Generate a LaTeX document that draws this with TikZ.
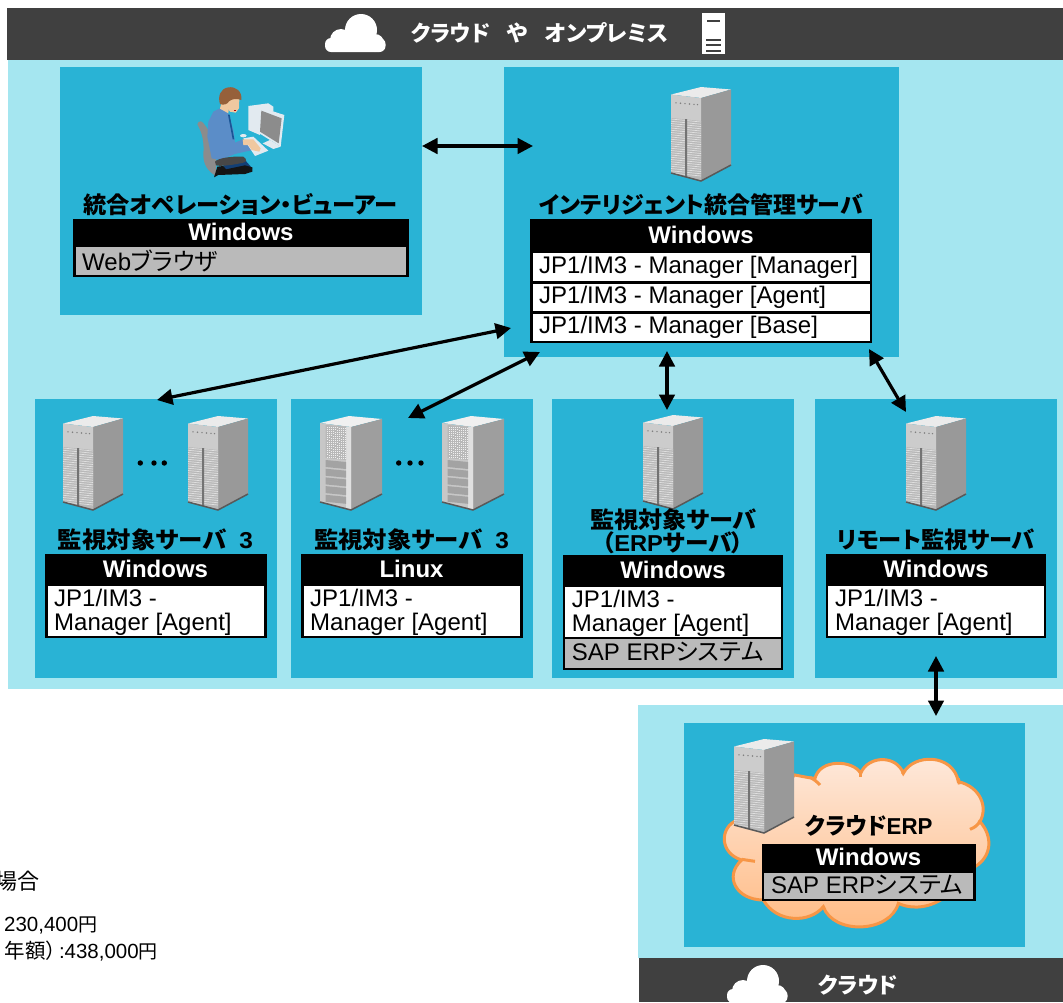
\documentclass[tikz,border=0pt]{standalone}
\usepackage{fontspec}
\usepackage{graphicx}
\usetikzlibrary{arrows.meta}
\setmainfont{Liberation Sans}
\newfontfamily\cjk[RawFeature=+palt]{Noto Sans CJK JP}
\newcommand\J[1]{{\cjk #1}}
\newcommand\Fit[2]{\resizebox{#1pt}{\height}{#2}}
\definecolor{pale}{HTML}{A5E6F0}
\definecolor{panelblue}{HTML}{29B3D5}
\definecolor{darkbar}{HTML}{404040}
\definecolor{rowgrey}{HTML}{BABABA}
\definecolor{cloudline}{HTML}{F79646}
\definecolor{cloudtop}{HTML}{FEE9DC}
\definecolor{cloudbot}{HTML}{FFBA82}
\definecolor{shirt}{HTML}{5B8DC8}
\definecolor{tie}{HTML}{195596}
\definecolor{pants}{HTML}{123F75}
\definecolor{skin}{HTML}{F0C8A0}
\definecolor{hair}{HTML}{96603A}
\definecolor{pcwhite}{HTML}{E2EAF0}
\tikzset{
  x=1pt,y=-1pt,
  os/.style={font=\bfseries\fontsize{24}{24}\selectfont,text=white,inner sep=0,anchor=base},
  sw/.style={font=\fontsize{24}{24}\selectfont,text=black,inner sep=0,anchor=base west,align=left},
  ttl/.style={font=\bfseries\fontsize{23}{23}\selectfont,text=black,inner sep=0,anchor=base},
  bartxt/.style={font=\bfseries\fontsize{22}{22}\selectfont,text=white,inner sep=0,anchor=base},
  link/.style={line width=3.2pt,black,{Triangle[length=15.5pt,width=15.5pt]}-{Triangle[length=15.5pt,width=15.5pt]}},
  note/.style={inner sep=0,anchor=base east,text=black},
  dotmark/.style={fill=black,draw=none},
  cloudstroke/.style={cloudline,line width=3pt}
}
% blade server, origin at top left of its bounding box
\newcommand\SrvA[2]{\begin{scope}[shift={(#1,#2)}]
  \fill[black!8] (0,7.5)--(30,0)--(60,2.5)--(30,11)--cycle;
  \fill[black!40] (30,11)--(60,2.5)--(60,78)--(30,94)--cycle;
  \fill[black!20] (0,7.5)--(30,11)--(30,94)--(0,86)--cycle;
  \fill[black!28] (0,31)--(30,34)--(30,94)--(0,86)--cycle;
  \foreach \i in {0,...,24}{
    \draw[black!12,line width=.7pt] (0,{32+2.25*\i})--(30,{35+2.25*\i});
  }
  \fill[black!55] (14.2,32)--(16.2,32.2)--(16.2,90)--(14.2,89.5)--cycle;
  \foreach \d in {5,9.5,14,18.5,23,26.5}{\fill[black!50] (\d,{15.5+\d*.08}) circle (.8);}
  \draw[black!65,line width=1.5pt] (0,86)--(30,94)--(60,78);
\end{scope}}
% rack server with grid and bays
\newcommand\SrvB[2]{\begin{scope}[shift={(#1,#2)}]
  \fill[black!6] (0,7)--(29,0)--(62,3)--(31,11)--cycle;
  \fill[black!38] (31,11)--(62,3)--(62,78)--(31,94)--cycle;
  \fill[black!22] (0,7)--(31,11)--(31,94)--(0,86)--cycle;
  \fill[black!12] (26,10.5)--(31,11)--(31,94)--(26,92.5)--cycle;
  \fill[black!28] (5.7,9)--(26,10.5)--(26,44)--(5.7,42)--cycle;
  \foreach \a in {0,...,9}{\foreach \b in {0,...,14}{
    \fill[black!6] ({6.5+\a*2},{10.5+\b*2.15+\a*.18}) rectangle +(.9,.9);}}
  \foreach \k in {0,...,4}{
    \fill[black!36] (5.7,{44+\k*8.7}) -- (26,{46+\k*8.7}) -- (26,{53+\k*8.7}) -- (5.7,{51+\k*8.7})--cycle;
  }
  \draw[black!65,line width=1.5pt] (0,86)--(31,94)--(62,78);
\end{scope}}
\newcommand\WCloud[2]{\begin{scope}[shift={(#1,#2)}]
  \fill[white] (36,16) circle (16);
  \fill[white] (16,26) circle (11);
  \fill[white] (50,29) circle (9);
  \fill[white,rounded corners=6pt] (0,24) rectangle (60.5,38);
\end{scope}}
\begin{document}
\begin{tikzpicture}
\useasboundingbox (0,0) rectangle (1063,1002);
\clip (0,0) rectangle (1063,1002);
\fill[white] (0,0) rectangle (1063,1002);
% large areas
\fill[darkbar] (7,8) rectangle (1063,60);
\fill[pale] (8,60) rectangle (1063,689);
\fill[pale] (638,705) rectangle (1063,958);
\fill[darkbar] (639,958) rectangle (1063,1002);
% panels
\fill[panelblue] (60,67) rectangle (422,315);
\fill[panelblue] (504,67) rectangle (899,357);
\fill[panelblue] (35,399) rectangle (277,678);
\fill[panelblue] (291,399) rectangle (533,678);
\fill[panelblue] (552,399) rectangle (794,678);
\fill[panelblue] (815,399) rectangle (1057,678);
\fill[panelblue] (684,723) rectangle (1025,947);
% top bar
\WCloud{325}{14}
\node[bartxt] (tcl) at (450.5,41) {\Fit{79}{\J{クラウド}}};
\node[bartxt] (tya) at (517.5,41) {\J{や}};
\node[bartxt] (ton) at (606.5,41) {\Fit{123}{\J{オンプレミス}}};
\fill[white] (702,13) rectangle (725,54);
\fill[darkbar] (707,19.5) rectangle (720,21.5);
\foreach \yy in {38.5,44,49.5}{\fill[darkbar] (706,\yy) rectangle (721,\yy+2);}
% bottom bar
\WCloud{727}{965}
\node[bartxt] (bcl) at (858,993) {\Fit{80}{\J{クラウド}}};
% operator figure
\begin{scope}[shift={(190,80)},xscale=.33333,yscale=.33333]
  \fill[black!45] (22,133) .. controls (25,122) and (35,120) .. (42,132) .. controls (70,165) and (82,210) .. (78,288) .. controls (55,275) and (40,255) .. (40,225) .. controls (42,190) and (40,165) .. (22,133) -- cycle;
  \fill[shirt] (90,85) -- (115,100) -- (130,150) -- (135,188) -- (165,175) -- (185,190) -- (190,210) -- (165,215) -- (135,222) -- (90,240) -- (65,235) -- (52,170) -- (55,125) -- (70,95) -- cycle;
  \fill[tie] (114,104) -- (119,104) -- (133,178) -- (128,178) -- cycle;
  \fill[pants] (100,255) -- (165,240) -- (187,265) -- (105,270) -- cycle;
  \fill[black!72] (75,245) .. controls (85,232) and (140,228) .. (160,230) .. controls (172,238) and (170,246) .. (160,248) .. controls (130,255) and (90,260) .. (78,256) -- cycle;
  \fill[black!92] (72,292) -- (82,260) -- (100,258) -- (108,268) -- (165,256) -- (187,262) -- (187,275) -- (165,282) -- (85,285) -- cycle;
  \fill[skin] (95,65) -- (118,70) -- (115,100) -- (90,86) -- cycle;
  \fill[skin] (108,50) -- (148,58) -- (147,85) -- (137,98) -- (120,95) -- (108,78) -- cycle;
  \fill[red!70!black] (131,90) rectangle (137,94);
  \fill[hair] (90,72) .. controls (83,50) and (90,26) .. (115,22) .. controls (137,19) and (157,33) .. (154,60) .. controls (140,54) and (125,57) .. (117,64) .. controls (114,72) and (100,77) .. (90,72) -- cycle;
  \fill[pcwhite] (175,78) -- (235,70) -- (250,80) -- (250,95) -- (213,85) -- (210,165) -- (175,150) -- cycle;
  \fill[pcwhite] (212,82) -- (283,105) -- (272,200) -- (208,160) -- cycle;
  \fill[black!45] (214,92) -- (275,115) -- (266,190) -- (210,155) -- cycle;
  \fill[pcwhite] (218,190) -- (240,180) -- (272,200) -- (250,207) -- cycle;
  \fill[pcwhite] (160,175) -- (190,170) -- (235,212) -- (195,228) -- cycle;
  \fill[pcwhite] (160,167) ellipse (10 and 5);
  \fill[skin] (158,178) -- (190,178) -- (212,205) -- (208,215) -- (185,210) -- (175,195) -- (160,195) -- cycle;
\end{scope}
% servers
\SrvA{671}{87}
\SrvA{63}{416}
\SrvA{188}{416}
\SrvB{320}{416}
\SrvB{442}{416}
\SrvA{643}{415}
\SrvA{906}{416}
\foreach \dx in {140.3,154,164.3}{\fill[dotmark] (\dx,463) circle (2.7);}
\foreach \dx in {398.7,410,421}{\fill[dotmark] (\dx,463) circle (2.7);}
% cloud shape
\begin{scope}[xscale=.33333,yscale=.33333,shift={(1890,2070)}]
  \path[draw=cloudline,line width=3pt,top color=cloudtop,bottom color=cloudbot]
    (495,255) .. controls (520,260) and (545,265) .. (555,265) .. controls (570,205) and (670,210) .. (692,250) .. controls (715,195) and (800,195) .. (820,250) .. controls (850,190) and (970,190) .. (985,275) .. controls (1050,290) and (1075,350) .. (1050,395) .. controls (1090,440) and (1085,500) .. (1035,530) -- (1000,600) -- (935,628) .. controls (880,662) and (830,652) .. (805,640) .. controls (780,730) and (610,735) .. (580,650) .. controls (540,700) and (440,700) .. (400,630) .. controls (320,630) and (280,560) .. (335,510) .. controls (270,490) and (270,420) .. (312,395) -- cycle;
  \draw[cloudstroke] (540,262) .. controls (552,268) and (562,276) .. (570,285);
  \draw[cloudstroke] (692,245) -- (692,262);
  \draw[cloudstroke] (822,240) -- (818,252);
  \draw[cloudstroke] (985,265) -- (988,283);
  \draw[cloudstroke] (1050,392) .. controls (1045,405) and (1035,412) .. (1020,418);
  \draw[cloudstroke] (335,508) -- (375,514);
\end{scope}
\SrvA{734}{739}
% viewer
\fill[black] (73,219) rectangle (408.5,277);
\fill[rowgrey] (75.5,247) rectangle (406,274.5);
\node[ttl] (tV) at (240.5,213) {\Fit{314}{\J{統合オペレーション・ビューアー}}};
\node[os] (oV) at (241,240) {Windows};
\node[sw] (rV) at (82,270) {Web\J{ブラウザ}};
% manager
\fill[black] (530,219) rectangle (872,343);
\fill[white] (532.5,252.5) rectangle (869.5,281);
\fill[white] (532.5,284) rectangle (869.5,311);
\fill[white] (532.5,314) rectangle (869.5,340.5);
\node[ttl] (tM) at (701,213) {\Fit{324}{\J{インテリジェント統合管理サーバ}}};
\node[os] (oM) at (701,243) {Windows};
\node[sw] (rM1) at (539,273) {JP1/IM3 - Manager [Manager]};
\node[sw] (rM2) at (539,303) {JP1/IM3 - Manager [Agent]};
\node[sw] (rM3) at (539,333) {JP1/IM3 - Manager [Base]};
% target windows
\fill[black] (45.3,554) rectangle (266.7,638);
\fill[white] (47.7,586) rectangle (264.3,635.5);
\node[ttl] (tA) at (155.5,548) {\Fit{195}{\J{監視対象サーバ}\hspace{12pt}3}};
\node[os] (oA) at (155.5,577) {Windows};
\node[sw] (rA) at (54,630) {JP1/IM3 -\\Manager [Agent]};
% target linux
\fill[black] (301.3,554) rectangle (522.7,638);
\fill[white] (303.7,586) rectangle (520.3,635.5);
\node[ttl] (tB) at (411.5,548) {\Fit{195}{\J{監視対象サーバ}\hspace{12pt}3}};
\node[os] (oB) at (411.5,577) {Linux};
\node[sw] (rB) at (310,630) {JP1/IM3 -\\Manager [Agent]};
% target erp
\fill[black] (562.7,555) rectangle (783,670);
\fill[white] (565,587) rectangle (780.7,636.5);
\fill[rowgrey] (565,639) rectangle (780.7,667.5);
\node[ttl] (tC1) at (673.5,528) {\Fit{167}{\J{監視対象サーバ}}};
\node[ttl] (tC2) at (673,551) {\Fit{141}{\J{（}ERP\J{サーバ）}}};
\node[os] (oC) at (673,578) {Windows};
\node[sw] (rC) at (571.7,631) {JP1/IM3 -\\Manager [Agent]};
\node[sw] (rC2) at (571.7,660) {SAP ERP\J{システム}};
% remote
\fill[black] (825.7,554) rectangle (1046,638);
\fill[white] (828,586) rectangle (1043.7,635.5);
\node[ttl] (tD) at (936,548) {\Fit{198}{\J{リモート監視サーバ}}};
\node[os] (oD) at (936,577) {Windows};
\node[sw] (rD) at (835,630) {JP1/IM3 -\\Manager [Agent]};
% cloud erp
\fill[black] (761.7,844) rectangle (975.7,901);
\fill[rowgrey] (764,873) rectangle (973.3,898.7);
\node[ttl] (tE) at (869,834) {\Fit{127}{\J{クラウド}ERP}};
\node[os] (oE) at (868.5,865) {Windows};
\node[sw] (rE) at (771,893) {SAP ERP\J{システム}};
% clipped note text
\node[note,font=\fontsize{22}{22}\selectfont] (n1) at (39.5,889) {\J{場合}};
\node[note,font=\fontsize{20.5}{20.5}\selectfont] (n2) at (97.5,931.5) {230,400\J{\fontsize{19}{19}\selectfont 円}};
\node[note,font=\fontsize{20.5}{20.5}\selectfont] (n3) at (158,958) {\J{\fontsize{20.5}{20}\selectfont 年額）}\hspace{3pt}:438,000\J{\fontsize{19}{19}\selectfont 円}};
% connectors
\coordinate (a1) at (422,146); \coordinate (b1) at (533,146);
\coordinate (a2) at (157,400); \coordinate (b2) at (511,328);
\coordinate (a3) at (408,418); \coordinate (b3) at (540,352);
\coordinate (a4) at (667,351); \coordinate (b4) at (667,410);
\coordinate (a5) at (869,349); \coordinate (b5) at (906,412);
\coordinate (a6) at (936,656); \coordinate (b6) at (936,716);
\draw[link] (a1) -- (b1);
\draw[link] (a2) -- (b2);
\draw[link] (a3) -- (b3);
\draw[link] (a4) -- (b4);
\draw[link] (a5) -- (b5);
\draw[link] (a6) -- (b6);
\end{tikzpicture}
\end{document}
